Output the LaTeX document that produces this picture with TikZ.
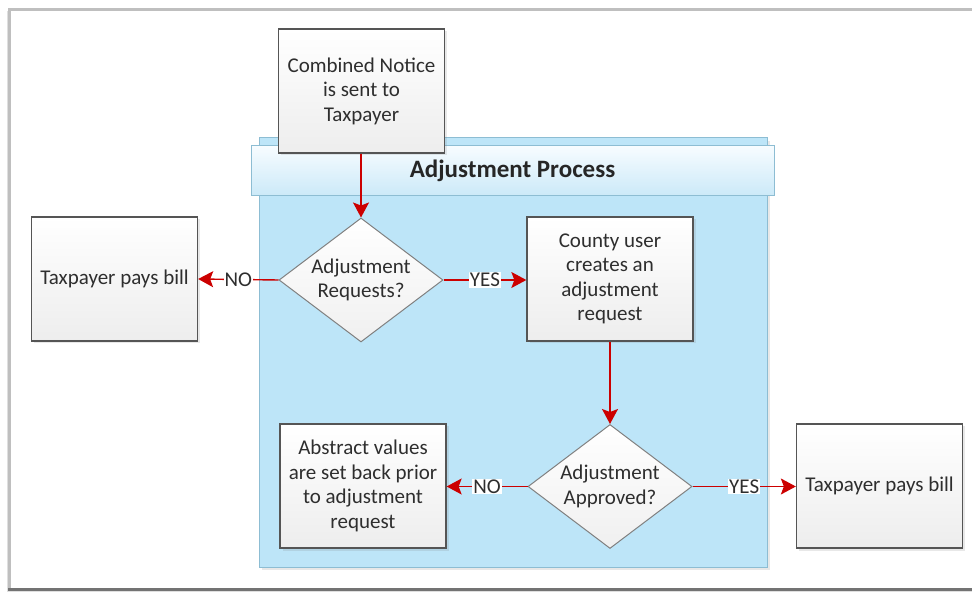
\documentclass[tikz,border=0pt]{standalone}
\usepackage{fontspec}
\setmainfont{Carlito}
\usetikzlibrary{shapes.geometric,arrows.meta,shadows}
\definecolor{flowred}{HTML}{CC0000}
\definecolor{laneblue}{HTML}{BDE5F8}
\definecolor{laneedge}{HTML}{8DBDD3}
\definecolor{headtop}{HTML}{F7FCFF}
\definecolor{headbot}{HTML}{CBE9F8}
\definecolor{boxedge}{HTML}{555555}
\definecolor{decedge}{HTML}{808080}
\tikzset{
  x=1pt, y=-1pt,
  txt/.style={font=\fontsize{21}{24.5}\selectfont, text=black!82, align=center},
  procbox/.style={draw=boxedge, line width=1.3pt, top color=white, bottom color=black!7,
    minimum width=166pt, minimum height=124pt, inner sep=0pt, txt,
    drop shadow={opacity=0.18, shadow xshift=2.5pt, shadow yshift=-2.5pt}},
  decision/.style={diamond, draw=decedge, line width=1pt, top color=white, bottom color=black!6,
    minimum width=164pt, minimum height=124pt, inner sep=0pt},
  flow/.style={draw=flowred, line width=1.4pt, -{Stealth[length=15pt,width=16pt,inset=3pt]}},
  answer/.style={fill=white, inner sep=1pt, txt},
}
\begin{document}
\begin{tikzpicture}
\useasboundingbox (0,0) rectangle (972,593);
% outer frame
\draw[draw=black!25, line width=3pt, fill=white,
  drop shadow={opacity=0.25, shadow xshift=-3pt, shadow yshift=-2pt}]
  (9.5,9.5) rectangle (990,589.5);
\draw[black!55, line width=3pt] (8,589.5) -- (972,589.5);
% swimlane container
\node[draw=laneedge, line width=1pt, fill=laneblue, minimum width=508pt, minimum height=429pt,
  inner sep=0pt, drop shadow={opacity=0.18, shadow xshift=3pt, shadow yshift=-3pt}]
  (lane) at (513,352.5) {};
\node[draw=laneedge, line width=1pt, top color=headtop, bottom color=headbot,
  minimum width=523pt, minimum height=50pt, inner sep=0pt,
  font=\fontsize{25}{29}\selectfont\bfseries, text=black!85]
  (lanehead) at (512.5,171) {Adjustment Process};
% process steps
\node[procbox] (notice) at (361.5,91) {Combined Notice\\is sent to\\Taxpayer};
\node[decision] (req) at (361,280) {};
\node[txt] (reqtext) at (req) {Adjustment\\Requests?};
\node[procbox] (paysA) at (114.5,279) {Taxpayer pays bill};
\node[procbox] (county) at (610,279) {County user\\creates an\\adjustment\\request};
\node[decision] (appr) at (610,486.5) {};
\node[txt] (apprtext) at (appr) {Adjustment\\Approved?};
\node[procbox] (abstract) at (363,486) {Abstract values\\are set back prior\\to adjustment\\request};
\node[procbox] (paysB) at (879.5,486) {Taxpayer pays bill};
% connectors
\draw[flow] (notice.south -| req.north) -- (req.north);
\draw[flow] (req.west) -- node[answer] {NO} (paysA.east);
\draw[flow] (req.east) -- node[answer] {YES} (req.east -| county.west);
\draw[flow] (county.south) -- (appr.north);
\draw[flow] (appr.west) -- node[answer] {NO} (appr.west -| abstract.east);
\draw[flow] (appr.east) -- node[answer] {YES} (appr.east -| paysB.west);
\end{tikzpicture}
\end{document}
